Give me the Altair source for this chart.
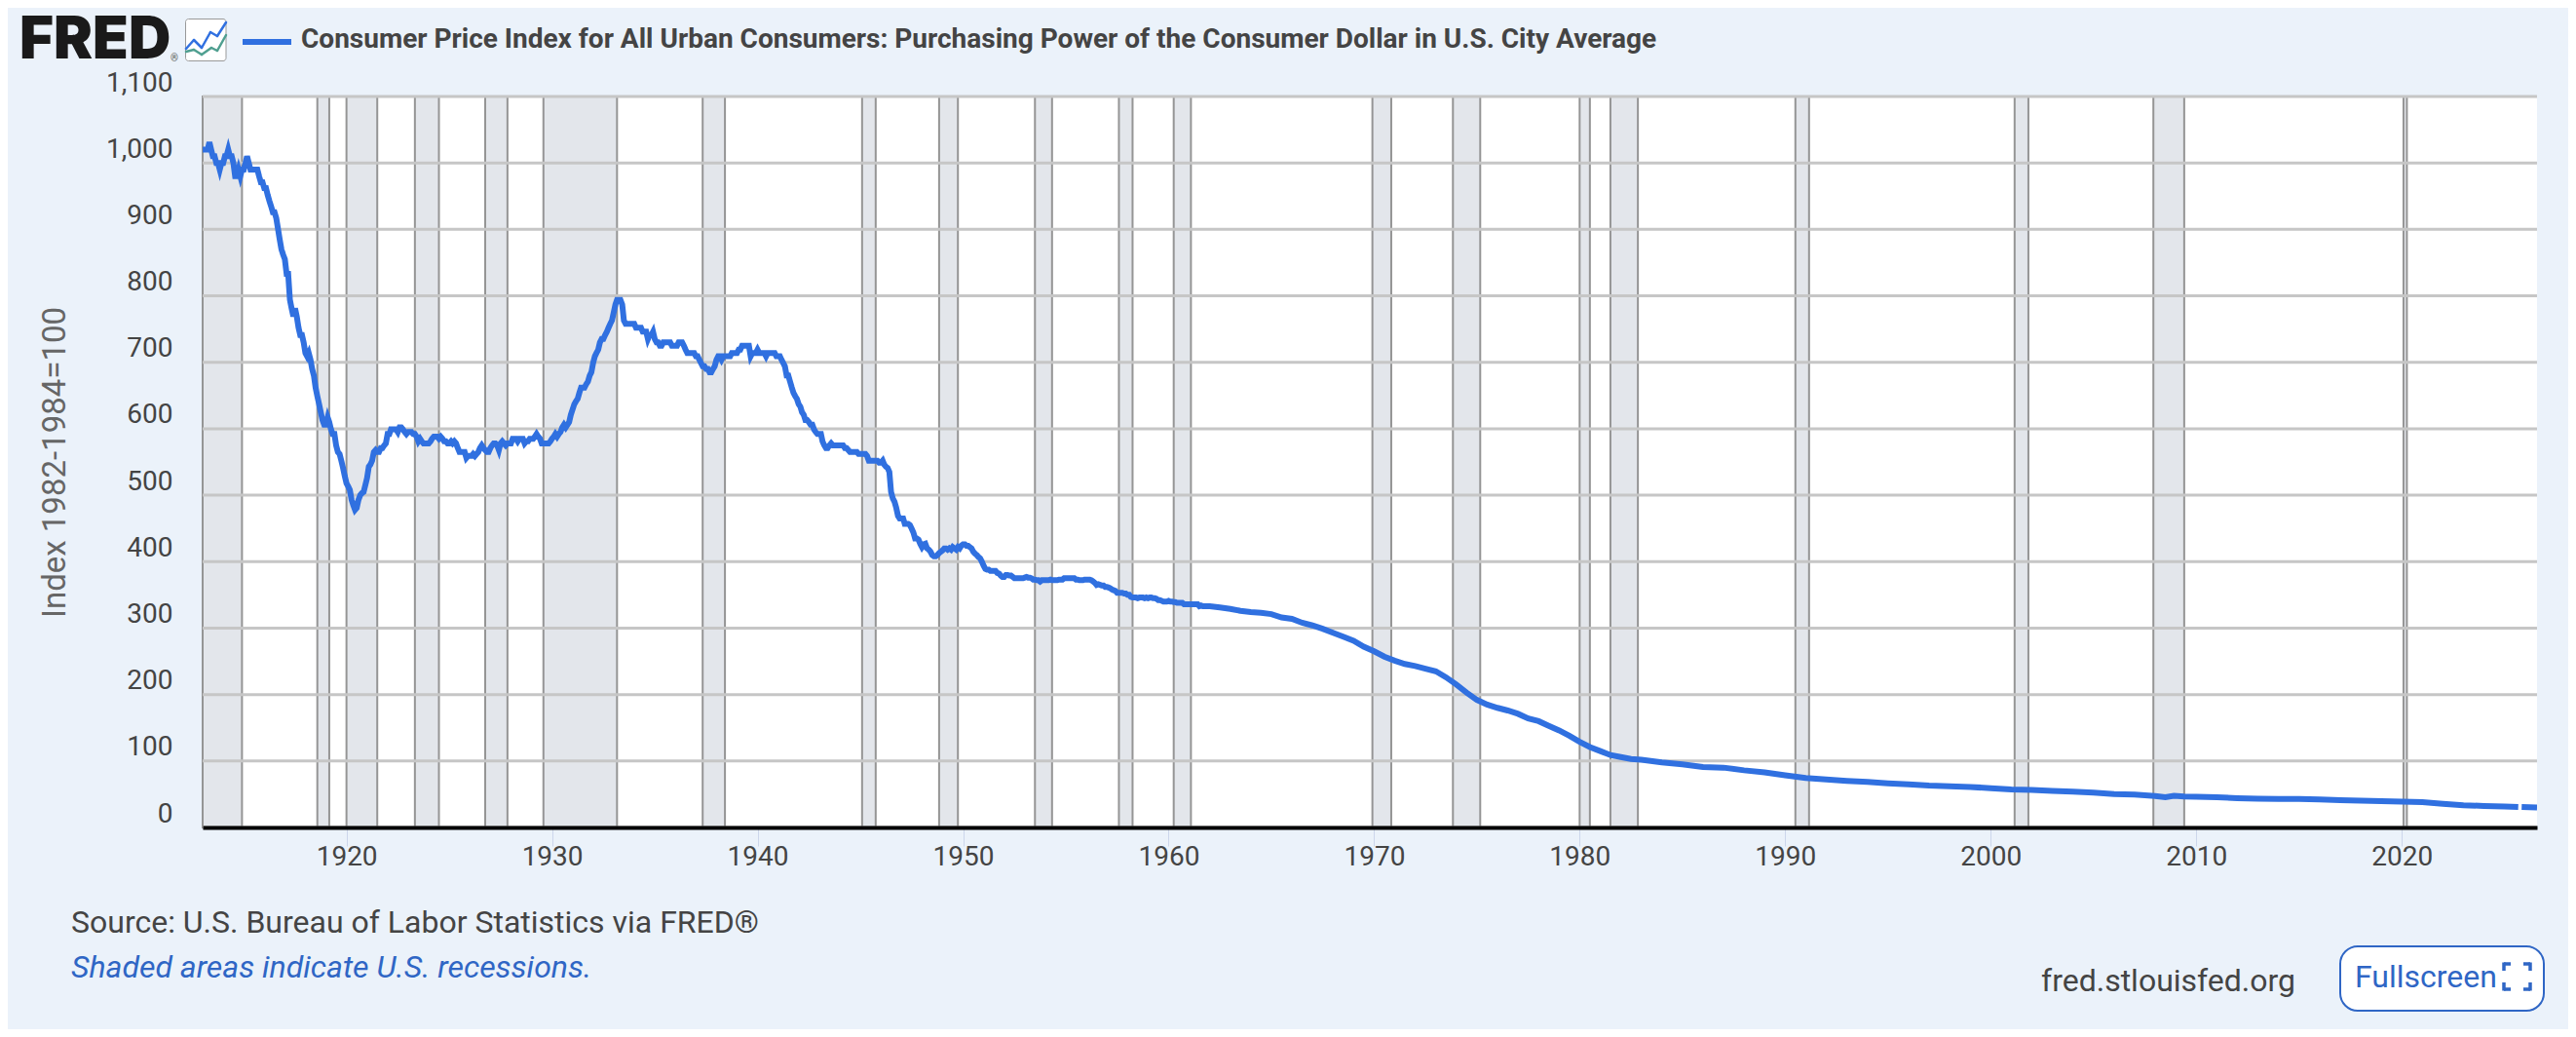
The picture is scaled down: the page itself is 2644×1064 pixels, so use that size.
import altair as alt

# Monthly purchasing-power readings, 1913-01 through 1961-12
pp_1913_1922 = [
    1020,1020,1020,1020,1031,1020,1010,1010,1000,1000,990,1000,
    1000,1010,1010,1020,1010,1010,1000,980,980,990,980,990,
    990,1000,1010,1000,990,990,990,990,990,980,971,971,
    962,962,952,943,935,926,926,917,901,885,870,862,
    855,833,833,794,781,769,781,769,752,741,741,730,
    714,709,714,704,690,680,662,649,637,625,613,606,
    606,617,610,599,592,592,575,565,562,552,541,529,
    518,513,508,493,485,478,481,493,500,503,505,515,
    526,543,546,552,565,568,565,565,571,571,575,578,
    592,592,599,599,599,599,595,602,602,599,595,592,
]
pp_1923_1932 = [
    595,595,595,592,592,588,581,585,581,578,578,578,
    578,581,585,588,588,588,585,588,585,581,581,578,
    578,581,578,581,578,571,565,565,565,565,556,559,
    559,559,562,559,562,565,571,575,571,568,565,565,
    571,575,578,578,575,568,578,581,578,575,578,578,
    578,585,585,585,581,585,585,585,578,581,581,585,
    585,585,588,592,588,585,578,578,578,578,578,581,
    585,588,592,588,592,595,602,606,602,606,610,621,
    629,637,641,645,654,662,662,662,667,671,680,685,
    699,709,714,719,730,735,735,741,746,752,758,763,
]
pp_1933_1942 = [
    775,787,794,794,794,787,763,758,758,758,758,758,
    758,752,752,752,752,746,746,746,735,741,741,746,
    735,730,730,725,725,730,730,730,730,730,725,725,
    725,725,730,730,730,725,719,714,714,714,714,714,
    709,709,704,699,694,694,690,690,685,685,690,694,
    704,709,709,704,709,709,709,709,709,714,714,714,
    714,719,719,725,725,725,725,725,709,714,714,714,
    719,714,714,714,714,709,714,714,714,714,714,709,
    709,709,704,699,694,680,680,671,662,654,649,645,
    637,633,625,621,613,613,610,606,606,599,595,592,
]
pp_1943_1952 = [
    592,592,581,575,571,571,575,578,575,575,575,575,
    575,575,575,571,571,568,565,565,565,565,565,562,
    562,562,562,562,559,552,552,552,552,552,552,549,
    549,552,546,543,541,535,505,495,490,481,469,465,
    465,465,457,457,457,455,450,444,435,435,433,427,
    422,426,427,420,418,415,410,408,408,410,413,415,
    417,420,420,418,420,418,422,420,418,422,420,424,
    426,426,424,424,422,420,415,412,410,407,405,400,
    394,389,388,388,386,386,386,386,383,382,379,377,
    377,380,380,379,379,377,375,375,375,375,375,375,
]
pp_1953_1961 = [
    376,377,376,376,375,373,373,372,372,370,372,372,
    372,372,372,373,372,372,372,372,373,373,373,375,
    375,375,375,375,375,375,373,373,372,372,372,373,
    373,373,373,372,370,368,365,366,365,364,364,362,
    362,361,360,358,357,356,353,353,353,353,352,352,
    350,350,347,346,346,346,345,346,346,346,345,346,
    345,346,346,345,345,344,342,342,341,340,340,340,
    341,340,340,339,339,338,338,338,338,336,336,336,
    336,336,336,336,336,336,333,334,333,333,333,333,
]
monthly_values = pp_1913_1922 + pp_1923_1932 + pp_1933_1942 + pp_1943_1952 + pp_1953_1961

# Later years are smooth: readings at January and July, then yearly
late_dates = [
    "1962-01","1962-07","1963-01","1963-07","1964-01","1964-07","1965-01","1965-07",
    "1966-01","1966-07","1967-01","1967-07","1968-01","1968-07","1969-01","1969-07",
    "1970-01","1970-07","1971-01","1971-07","1972-01","1972-07","1973-01","1973-07",
    "1974-01","1974-07","1975-01","1975-07","1976-01","1976-07","1977-01","1977-07",
    "1978-01","1978-07","1979-01","1979-07","1980-01","1980-07","1981-01","1981-07",
    "1982-01","1982-07","1983-01","1984-01","1985-01","1986-01","1987-01","1988-01",
    "1989-01","1990-01","1991-01","1992-01","1993-01","1994-01","1995-01","1996-01",
    "1997-01","1998-01","1999-01","2000-01","2001-01","2002-01","2003-01","2004-01",
    "2005-01","2006-01","2007-01","2008-01","2008-07","2008-12","2009-06","2010-01",
    "2011-01","2012-01","2013-01","2014-01","2015-01","2016-01","2017-01","2018-01",
    "2019-01","2020-01","2021-01","2022-01","2023-01","2024-01","2025-01","2025-09",
    "2025-10","2025-11","2026-08",
]
late_values = [
    333,331,329,326,324,323,321,316,
    314,308,304,299,293,287,281,272,
    265,257,251,246,243,239,235,226,
    215,203,192,185,180,176,171,164,
    160,153,146,138,129,121,115,109,
    106,103,102,98,95,91,90,86,
    83,78.5,74.3,72.4,70.1,68.4,66.5,64.8,
    62.9,61.9,60.9,59.2,57.1,56.5,55.0,54.0,
    52.4,50.4,49.4,47.4,45.5,47.6,46.4,46.1,
    45.4,44.1,43.4,42.8,42.8,42.2,41.2,40.3,
    39.7,38.8,38.2,35.6,33.4,32.4,31.5,30.8,
    None,30.8,30.0,
]

recession_start = ["1913-01","1918-08","1920-01","1923-05","1926-10","1929-08","1937-05",
                   "1945-02","1948-11","1953-07","1957-08","1960-04","1969-12","1973-11",
                   "1980-01","1981-07","1990-07","2001-03","2007-12","2020-02"]
recession_end = ["1914-12","1919-03","1921-07","1924-07","1927-11","1933-03","1938-06",
                 "1945-10","1949-10","1954-05","1958-04","1961-02","1970-11","1975-03",
                 "1980-07","1982-11","1991-03","2001-11","2009-06","2020-04"]
y_ticks = [0,100,200,300,400,500,600,700,800,900,1000,1100]
x_tick_years = ["1920","1930","1940","1950","1960","1970","1980","1990","2000","2010","2020"]

TITLE = "Consumer Price Index for All Urban Consumers: Purchasing Power of the Consumer Dollar in U.S. City Average"
YTITLE = "Index 1982-1984=100"
SOURCE = "Source: U.S. Bureau of Labor Statistics via FRED®"
NOTE = "Shaded areas indicate U.S. recessions."
SITE = "fred.stlouisfed.org"
BUTTON = "Fullscreen"

BG = "#ebf2fa"
BLUE = "#3070e0"
DARK = "#444444"
LINKBLUE = "#2f66c5"
FONT = "Roboto"
LEFT, TOP, W, H = 208, 99, 2396, 750

months = [f"{1913 + i // 12}-{i % 12 + 1:02d}-01" for i in range(len(monthly_values))]
rows = [{"date": d, "value": v} for d, v in zip(months, monthly_values)]
rows += [{"date": d + "-01", "value": v} for d, v in zip(late_dates, late_values)]
rec_rows = [{"start": s + "-01", "end": e + "-01"} for s, e in zip(recession_start, recession_end)]
grid_rows = [{"tick": t} for t in y_ticks]

x_scale = alt.Scale(domain=["1913-01-01", "2026-08-01"])
y_scale = alt.Scale(domain=[0, 1100], nice=False)
x_axis = alt.Axis(
    values=[y + "-01-01" for y in x_tick_years], format="%Y", grid=False, title=None,
    domain=True, domainColor="#000000", domainWidth=4,
    ticks=True, tickColor="#ccd6eb", tickWidth=1, tickSize=19,
    labelFont=FONT, labelFontSize=28, labelColor=DARK, labelPadding=11,
    labelBaseline="middle", labelOverlap=False, labelFlush=False, zindex=1,
)
y_axis = alt.Axis(
    values=y_ticks, format=",.0f", grid=False, domain=False, ticks=False,
    labelFont=FONT, labelFontSize=28, labelColor=DARK, labelPadding=31, labelOffset=-14,
    labelBaseline="middle", labelOverlap=False, labelFlush=False,
    title=YTITLE, titleFont=FONT, titleFontSize=33, titleFontWeight="normal",
    titleColor="#666666", titleX=56 - LEFT, titleY=H / 2, titleAlign="center", titleBaseline="middle",
)

bands = alt.Chart(alt.Data(values=rec_rows)).mark_rect(
    fill="#e3e6eb", stroke="#959595", strokeWidth=2
).encode(
    x=alt.X("start:T", scale=x_scale, axis=x_axis),
    x2="end:T",
    y=alt.value(0),
    y2=alt.value(H),
)
grid = alt.Chart(alt.Data(values=grid_rows)).mark_rule(color="#c6c6c6", strokeWidth=3).encode(
    y=alt.Y("tick:Q", scale=y_scale, axis=y_axis),
)
line = alt.Chart(alt.Data(values=rows)).mark_line(
    color=BLUE, strokeWidth=6, strokeJoin="miter", clip=True
).encode(
    x=alt.X("date:T", scale=x_scale, axis=x_axis),
    y=alt.Y("value:Q", scale=y_scale, axis=y_axis),
)

one = alt.Data(values=[{}])


def text(x, y, s, size, color=DARK, align="left", weight="normal", style="normal", font=FONT):
    return alt.Chart(one).mark_text(
        text=s, font=font, fontSize=size, color=color, align=align, baseline="middle",
        fontWeight=weight, fontStyle=style,
    ).encode(x=alt.value(x - LEFT), y=alt.value(y - TOP))


def seg(x1, y1, x2, y2, color, width, cap="butt"):
    return alt.Chart(one).mark_rule(color=color, strokeWidth=width, strokeCap=cap).encode(
        x=alt.value(x1 - LEFT), y=alt.value(y1 - TOP), x2=alt.value(x2 - LEFT), y2=alt.value(y2 - TOP)
    )


def box(x1, y1, x2, y2, fill, stroke, width, radius):
    return alt.Chart(one).mark_rect(fill=fill, stroke=stroke, strokeWidth=width, cornerRadius=radius).encode(
        x=alt.value(x1 - LEFT), y=alt.value(y1 - TOP), x2=alt.value(x2 - LEFT), y2=alt.value(y2 - TOP)
    )


def poly(points, color, width):
    return [seg(a[0], a[1], b[0], b[1], color, width, "round") for a, b in zip(points, points[1:])]


icon_blue = [(191, 50), (199, 41), (207, 49), (216, 33), (223, 37), (232, 23)]
icon_green = [(191, 53), (199, 51), (207, 56), (217, 49), (223, 52), (232, 36)]
bx1, bx2, by1, by2, arm = 2570, 2597, 989, 1015, 7
corners = [
    seg(bx1, by1, bx1 + arm, by1, LINKBLUE, 3.5), seg(bx1, by1 - 1.5, bx1, by1 + arm, LINKBLUE, 3.5),
    seg(bx2 - arm, by1, bx2, by1, LINKBLUE, 3.5), seg(bx2, by1 - 1.5, bx2, by1 + arm, LINKBLUE, 3.5),
    seg(bx1, by2, bx1 + arm, by2, LINKBLUE, 3.5), seg(bx1, by2 - arm, bx1, by2 + 1.5, LINKBLUE, 3.5),
    seg(bx2 - arm, by2, bx2, by2, LINKBLUE, 3.5), seg(bx2, by2 - arm, bx2, by2 + 1.5, LINKBLUE, 3.5),
]

decor = [
    text(20, 42, "FRED", 60, color="#1a1a1a", weight=900, font="Inter"),
    text(175, 60, "®", 10, color="#555555"),
    box(190.5, 19.5, 232, 62.5, "#ffffff", "#999999", 1, 3),
    *poly(icon_green, "#4f9f90", 2.5),
    *poly(icon_blue, BLUE, 2.5),
    seg(249, 43, 299, 43, BLUE, 6),
    text(309, 41, TITLE, 28, weight="bold"),
    text(73, 947, SOURCE, 32),
    text(73, 993, NOTE, 32, color=LINKBLUE, style="italic"),
    text(2095, 1007, SITE, 32),
    box(2402, 971, 2611, 1037, "#ffffff", LINKBLUE, 2, 18),
    text(2417, 1003, BUTTON, 32, color=LINKBLUE),
    *corners,
]

TOTAL_W, TOTAL_H = 2628, 1048
chart = alt.layer(bands, grid, line, *decor).resolve_scale(x="shared", y="shared").properties(
    width=W, height=H,
    autosize=alt.AutoSizeParams(type="none"),
    padding={"left": LEFT - 8, "top": TOP - 8, "right": TOTAL_W - (LEFT - 8) - W, "bottom": TOTAL_H - (TOP - 8) - H},
    background=BG,
).configure_view(fill="#ffffff", stroke=None)

chart.save("out.html", embed_options={"renderer": "svg", "actions": False})
